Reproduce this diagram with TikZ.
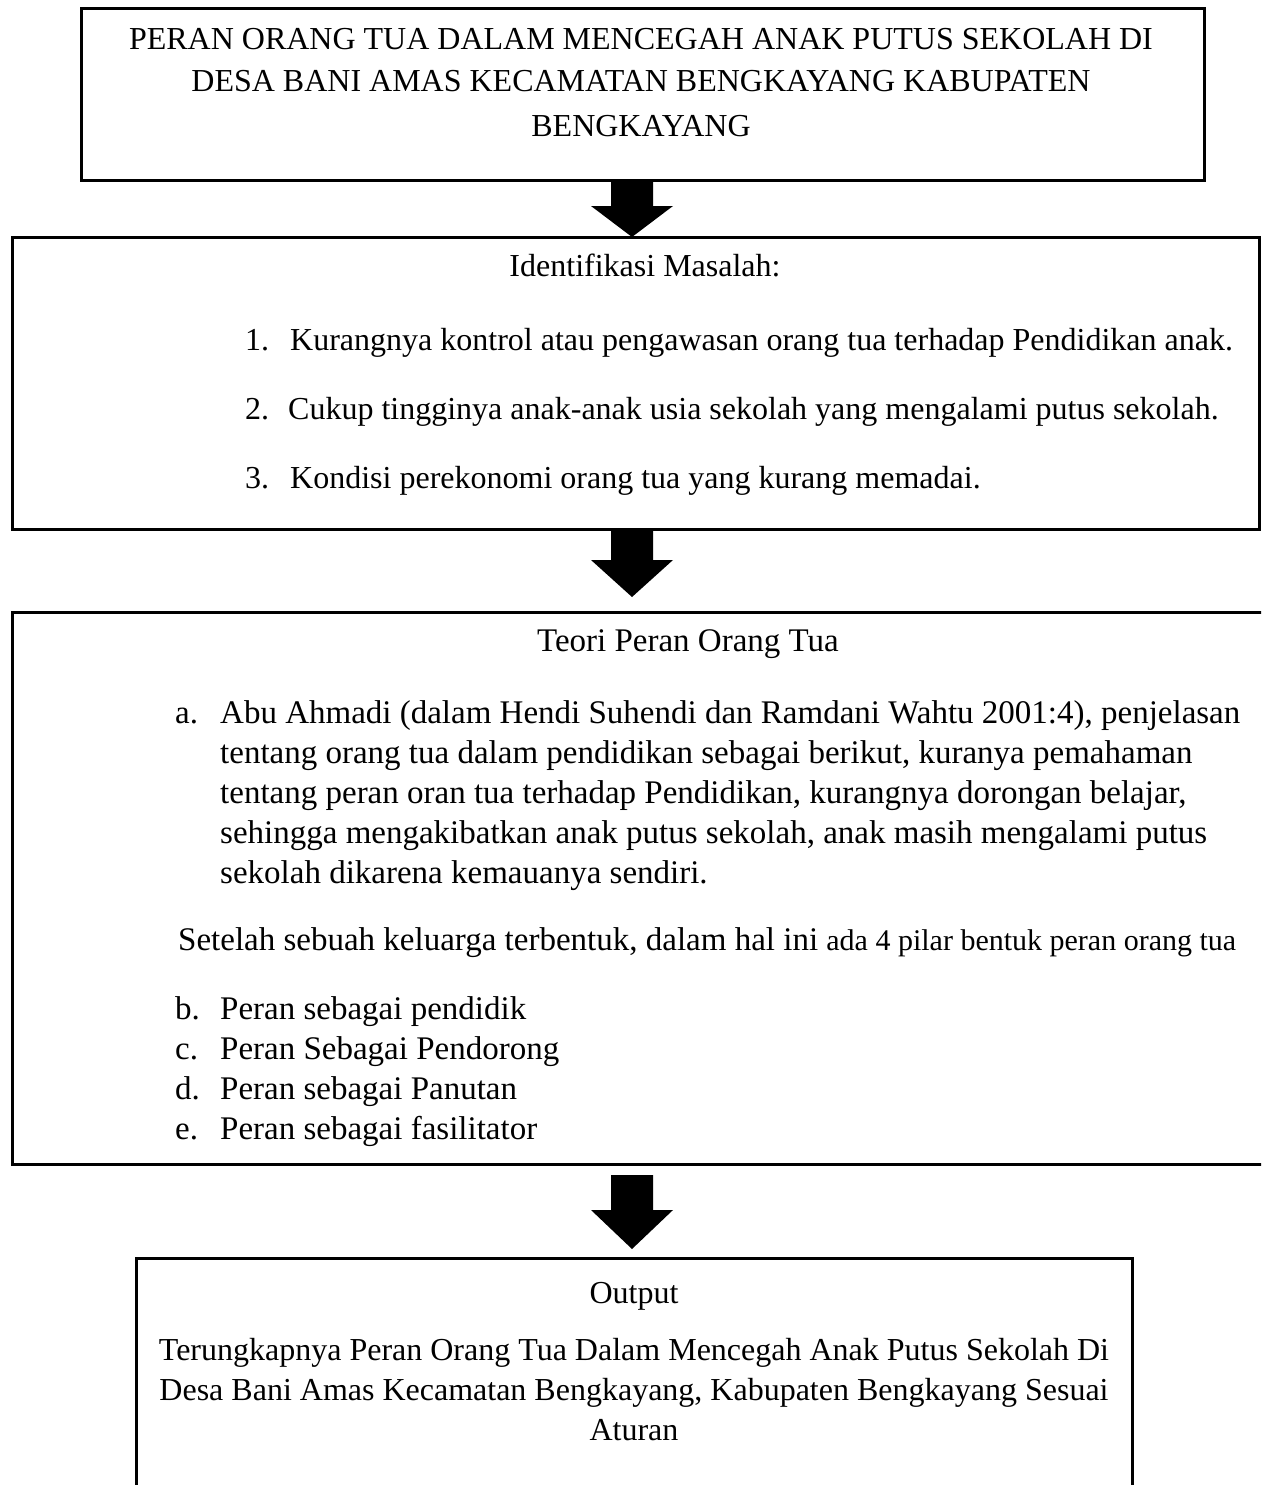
\documentclass[tikz,border=0pt]{standalone}
\usepackage{fontspec}
\setmainfont{Liberation Serif}
\usetikzlibrary{calc}
\tikzset{
  box/.style={draw, line width=3pt, rectangle, anchor=north west, inner sep=0pt, outer sep=0pt},
  txt/.style={font=\fontsize{32}{38}\selectfont, inner sep=0pt},
  ln/.style={txt, anchor=base west},
  cl/.style={txt, anchor=base},
  lnb/.style={ln, font=\fontsize{33}{39}\selectfont},
  clb/.style={cl, font=\fontsize{33}{39}\selectfont},
}
\newcommand\blkarrow[3]{%
  \fill let \p1=(#1), \p2=(#2) in
    (\x1-21pt,\y1) -- (\x1+21pt,\y1) -- (\x1+21pt,\y2+#3) -- (\x1+41pt,\y2+#3)
    -- (\x2,\y2) -- (\x1-41pt,\y2+#3) -- (\x1-21pt,\y2+#3) -- cycle;}
\begin{document}
\begin{tikzpicture}[x=1pt,y=-1pt]
\useasboundingbox (0,0) rectangle (1261,1485);
\clip (0,0) rectangle (1261,1485);
% boxes
\node[box, minimum width=1123pt, minimum height=171pt] (b1) at (81,9) {};
\node[box, minimum width=1247pt, minimum height=292pt] (b2) at (12,237) {};
\node[box, minimum width=1270pt, minimum height=552pt] (b3) at (12,612) {};
\node[box, minimum width=996pt, minimum height=260pt] (b4) at (136,1258) {};
\coordinate (ax) at (632,0);
% arrows
\coordinate (a1s) at (b1.south -| ax);
\coordinate (a1e) at (b2.north -| ax);
\coordinate (a2s) at (b2.south -| ax);
\coordinate (a2e) at ($(b3.north -| ax)+(0,-15)$);
\coordinate (a3s) at ($(b3.south -| ax)+(0,11)$);
\coordinate (a3e) at ($(b4.north -| ax)+(0,-9)$);
\blkarrow{a1s}{a1e}{31pt}
\blkarrow{a2s}{a2e}{37pt}
\blkarrow{a3s}{a3e}{39pt}
% box 1 text
\node[cl] (t1) at (641,50) {PERAN ORANG TUA DALAM MENCEGAH ANAK PUTUS SEKOLAH DI};
\node[cl] (t2) at (641,92) {DESA BANI AMAS KECAMATAN BENGKAYANG KABUPATEN};
\node[cl] (t3) at (641,136) {BENGKAYANG};
% box 2 text
\node[cl] (im) at (645,276) {Identifikasi Masalah:};
\node[ln] (n1) at (245,350) {1.};
\node[ln] (i1) at (290,350) {Kurangnya kontrol atau pengawasan orang tua terhadap Pendidikan anak.};
\node[ln] (n2) at (245,419) {2.};
\node[ln] (i2) at (288,419) {Cukup tingginya anak-anak usia sekolah yang mengalami putus sekolah.};
\node[ln] (n3) at (245,488) {3.};
\node[ln] (i3) at (290,488) {Kondisi perekonomi orang tua yang kurang memadai.};
% box 3 text
\node[clb] (tp) at (688,651) {Teori Peran Orang Tua};
\node[lnb] (la) at (175,723) {a.};
\node[lnb] (a1) at (220,723) {Abu Ahmadi (dalam Hendi Suhendi dan Ramdani Wahtu 2001:4), penjelasan};
\node[lnb] (a2) at (220,763) {tentang orang tua dalam pendidikan sebagai berikut, kuranya pemahaman};
\node[lnb] (a3) at (220,803) {tentang peran oran tua terhadap Pendidikan, kurangnya dorongan belajar,};
\node[lnb] (a4) at (220,843) {sehingga mengakibatkan anak putus sekolah, anak masih mengalami putus};
\node[lnb] (a5) at (220,883) {sekolah dikarena kemauanya sendiri.};
\node[lnb] (st) at (178,950) {Setelah sebuah keluarga terbentuk, dalam hal ini {\fontsize{30}{35}\selectfont ada 4 pilar bentuk peran orang tua}};
\node[lnb] (lb) at (175,1019) {b.};
\node[lnb] (pb) at (220,1019) {Peran sebagai pendidik};
\node[lnb] (lc) at (175,1059) {c.};
\node[lnb] (pc) at (220,1059) {Peran Sebagai Pendorong};
\node[lnb] (ld) at (175,1099) {d.};
\node[lnb] (pd) at (220,1099) {Peran sebagai Panutan};
\node[lnb] (le) at (175,1139) {e.};
\node[lnb] (pe) at (220,1139) {Peran sebagai fasilitator};
% box 4 text
\node[cl] (op) at (634,1303) {Output};
\node[cl] (o1) at (634,1360) {Terungkapnya Peran Orang Tua Dalam Mencegah Anak Putus Sekolah Di};
\node[cl] (o2) at (634,1400) {Desa Bani Amas Kecamatan Bengkayang, Kabupaten Bengkayang Sesuai};
\node[cl] (o3) at (634,1440) {Aturan};
\end{tikzpicture}
\end{document}
